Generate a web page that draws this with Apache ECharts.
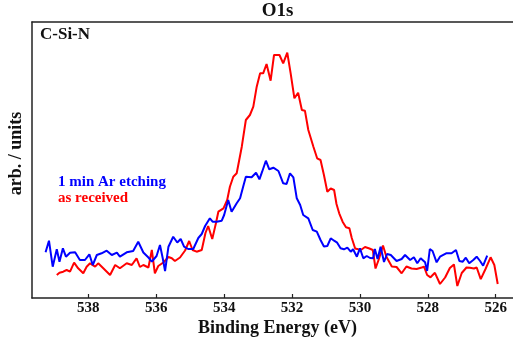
<!DOCTYPE html>
<html>
<head>
<meta charset="utf-8">
<script src="https://cdn.jsdelivr.net/npm/echarts@6/dist/echarts.min.js"></script>
<style>
  html, body { margin: 0; padding: 0; background: #fff; }
  #chart { width: 513px; height: 344px; }
</style>
</head>
<body>
<div id="chart"></div>
<script>
// O1s XPS spectra of the C-Si-N film: binding energy (eV) vs intensity (arb. units)
const tickValues = [526, 528, 530, 532, 534, 536, 538];

const etchedBE = [539.26, 539.16, 539.05, 538.93, 538.85, 538.75, 538.66, 538.54, 538.39, 538.25, 538.10,
  537.97, 537.87, 537.75, 537.61, 537.46, 537.31, 537.16, 537.07, 536.87, 536.68, 536.53, 536.38, 536.23,
  536.13, 535.99, 535.89, 535.81, 535.74, 535.64, 535.50, 535.38, 535.28, 535.18, 535.06, 534.91, 534.76,
  534.66, 534.56, 534.42, 534.34, 534.22, 534.07, 534.00, 533.88, 533.78, 533.63, 533.53, 533.44, 533.36,
  533.19, 533.06, 532.96, 532.88, 532.77, 532.67, 532.55, 532.40, 532.26, 532.16, 532.06, 531.96, 531.86,
  531.76, 531.67, 531.52, 531.39, 531.27, 531.16, 531.06, 530.96, 530.86, 530.76, 530.67, 530.57, 530.47,
  530.37, 530.27, 530.20, 530.09, 530.00, 529.90, 529.80, 529.70, 529.61, 529.56, 529.48, 529.39, 529.29,
  529.20, 529.09, 528.92, 528.77, 528.67, 528.52, 528.41, 528.31, 528.21, 528.08, 528.02, 527.94, 527.86,
  527.74, 527.64, 527.46, 527.30, 527.17, 527.07, 526.97, 526.88, 526.78, 526.66, 526.56, 526.46, 526.37,
  526.25];
const etchedCounts = [45.7, 57.3, 31.3, 48.7, 36.3, 49.7, 41.3, 45.3, 45.7, 38.0, 38.0,
  43.7, 33.0, 43.0, 44.7, 47.3, 43.0, 45.3, 41.3, 45.7, 47.0, 56.3, 45.5, 40.5,
  36.3, 42.0, 53.0, 40.0, 27.0, 51.3, 61.3, 55.5, 59.0, 51.3, 49.0, 49.0, 60.0,
  64.0, 72.0, 79.7, 76.3, 76.3, 77.3, 83.0, 98.0, 86.3, 94.7, 99.7, 111.3, 121.3,
  120.7, 125.3, 118.7, 126.3, 137.3, 128.7, 130.3, 127.0, 114.7, 114.0, 124.7, 120.7, 99.7,
  93.0, 83.0, 79.7, 68.0, 66.3, 58.0, 51.5, 52.0, 59.7, 57.3, 55.3, 49.7, 48.7,
  50.3, 46.3, 48.7, 41.3, 49.7, 39.7, 42.0, 40.0, 39.7, 49.0, 39.0, 51.3, 36.0,
  44.0, 43.0, 37.0, 39.0, 43.0, 38.0, 40.7, 34.7, 39.7, 35.7, 27.0, 49.0, 47.0,
  35.7, 41.3, 44.7, 44.7, 48.0, 37.0, 36.3, 40.3, 34.7, 38.0, 41.3, 37.0, 32.3,
  42.3];

const receivedBE = [538.93, 538.85, 538.74, 538.64, 538.54, 538.42, 538.30, 538.15, 538.05, 537.95, 537.80,
  537.71, 537.56, 537.36, 537.21, 537.07, 536.87, 536.72, 536.58, 536.48, 536.38, 536.23, 536.13, 536.04,
  535.94, 535.79, 535.64, 535.54, 535.45, 535.30, 535.15, 535.03, 534.93, 534.81, 534.66, 534.55, 534.47,
  534.35, 534.24, 534.17, 534.02, 533.91, 533.83, 533.73, 533.63, 533.48, 533.36, 533.24, 533.14, 533.04,
  532.94, 532.85, 532.75, 532.63, 532.53, 532.37, 532.26, 532.14, 532.04, 531.93, 531.82, 531.71, 531.62,
  531.52, 531.37, 531.26, 531.16, 531.06, 530.96, 530.86, 530.76, 530.69, 530.61, 530.51, 530.41, 530.31,
  530.24, 530.14, 530.05, 529.95, 529.85, 529.72, 529.62, 529.54, 529.44, 529.32, 529.22, 529.06, 528.92,
  528.77, 528.63, 528.48, 528.33, 528.18, 528.11, 528.02, 527.92, 527.79, 527.64, 527.49, 527.35, 527.23,
  527.13, 527.00, 526.86, 526.76, 526.64, 526.56, 526.44, 526.30, 526.15, 526.04, 525.94];
const receivedCounts = [23.0, 25.3, 26.3, 28.0, 26.3, 35.3, 29.7, 24.7, 31.3, 34.7, 31.3,
  34.7, 29.7, 23.0, 33.0, 29.7, 34.7, 33.0, 39.7, 31.0, 33.0, 30.5, 48.0, 24.7,
  32.0, 35.5, 41.0, 39.7, 37.0, 40.5, 47.5, 57.0, 48.0, 46.3, 48.0, 65.0, 72.0,
  59.0, 75.0, 86.3, 89.7, 98.0, 111.3, 121.3, 124.7, 151.3, 178.0, 183.0, 191.3, 211.3,
  224.7, 224.7, 234.0, 217.3, 243.0, 243.0, 234.7, 245.3, 224.7, 199.7, 205.3, 188.0, 187.3,
  168.0, 151.3, 139.7, 138.0, 123.0, 106.3, 109.5, 108.0, 94.0, 84.7, 76.3, 70.7, 69.7,
  60.0, 49.5, 48.7, 48.5, 51.0, 49.5, 48.0, 29.5, 39.0, 52.5, 41.3, 31.5, 31.0,
  24.7, 31.5, 29.5, 29.0, 30.5, 31.3, 23.0, 20.7, 25.2, 14.0, 20.5, 30.0, 33.5,
  12.0, 25.0, 30.5, 30.3, 29.5, 30.5, 18.8, 29.0, 40.7, 33.0, 14.0];

const pairs = (xs, ys) => xs.map((x, i) => [x, ys[i]]);

const serif = '"Liberation Serif", "Times New Roman", serif';
const axisColor = '#222';

const chart = echarts.init(document.getElementById('chart'), null, { renderer: 'canvas' });
chart.setOption({
  animation: false,
  backgroundColor: '#fff',
  grid: { left: 32, top: 22, right: 0, bottom: 46, containLabel: false },
  xAxis: [{
    type: 'value',
    inverse: true,
    min: 525.49,
    max: 539.66,
    axisLine: { show: true, lineStyle: { color: axisColor, width: 1.5 } },
    axisTick: { show: true, inside: true, length: 4, customValues: tickValues,
      lineStyle: { color: axisColor, width: 1.2 } },
    axisLabel: { show: true, customValues: tickValues, margin: 3,
      fontFamily: serif, fontWeight: 'bold', fontSize: 15, color: '#111' },
    splitLine: { show: false }
  }, {
    type: 'value',
    position: 'top',
    inverse: true,
    min: 525.49,
    max: 539.66,
    axisLine: { show: true, lineStyle: { color: axisColor, width: 1.5 } },
    axisTick: { show: false },
    axisLabel: { show: false },
    splitLine: { show: false }
  }],
  yAxis: {
    type: 'value',
    min: 0,
    max: 276,
    axisLine: { show: true, lineStyle: { color: axisColor, width: 1.5 } },
    axisTick: { show: false },
    axisLabel: { show: false },
    splitLine: { show: false }
  },
  series: [{
    name: 'as received',
    type: 'line',
    xAxisIndex: 0,
    showSymbol: false,
    data: pairs(receivedBE, receivedCounts),
    lineStyle: { color: '#ff0000', width: 2 },
    itemStyle: { color: '#ff0000' }
  }, {
    name: '1 min Ar etching',
    type: 'line',
    xAxisIndex: 0,
    showSymbol: false,
    data: pairs(etchedBE, etchedCounts),
    lineStyle: { color: '#0000ff', width: 2 },
    itemStyle: { color: '#0000ff' }
  }],
  graphic: [
    { type: 'text', x: 277.5, y: 21, style: { text: 'O1s', font: 'bold 19px ' + serif,
      fill: '#111', textAlign: 'center', textVerticalAlign: 'bottom' } },
    { type: 'text', x: 40, y: 43.5, style: { text: 'C-Si-N', font: 'bold 17px ' + serif,
      fill: '#111', textAlign: 'left', textVerticalAlign: 'bottom' } },
    { type: 'text', x: 58, y: 190, style: { text: '1 min Ar etching', font: 'bold 15px ' + serif,
      fill: '#0000ff', textAlign: 'left', textVerticalAlign: 'bottom' } },
    { type: 'text', x: 58, y: 205.5, style: { text: 'as received', font: 'bold 15px ' + serif,
      fill: '#ff0000', textAlign: 'left', textVerticalAlign: 'bottom' } },
    { type: 'text', x: 277.5, y: 337.5, style: { text: 'Binding Energy (eV)', font: 'bold 18px ' + serif,
      fill: '#111', textAlign: 'center', textVerticalAlign: 'bottom' } },
    { type: 'text', x: 16, y: 153.5, rotation: Math.PI / 2, style: { text: 'arb. / units',
      font: 'bold 18px ' + serif, fill: '#111', textAlign: 'center', textVerticalAlign: 'middle' } }
  ]
});
</script>
</body>
</html>
